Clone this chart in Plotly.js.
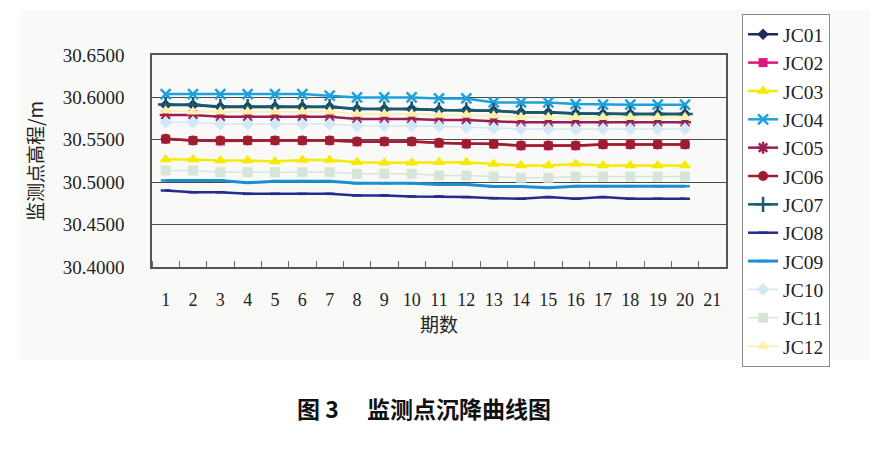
<!DOCTYPE html>
<html>
<head>
    <meta charset="utf-8">
    <title>监测点沉降曲线图</title>
    <script src="https://cdn.plot.ly/plotly-3.0.1.min.js"></script>
    <style>
        html, body { margin: 0; padding: 0; background: #ffffff; }
        #plot { width: 892px; height: 470px; }
    </style>
</head>
<body>
    <div id="plot"></div>
    <script>
        const periods = [1, 2, 3, 4, 5, 6, 7, 8, 9, 10, 11, 12, 13, 14, 15, 16, 17, 18, 19, 20];
        const periodTicks = [1, 2, 3, 4, 5, 6, 7, 8, 9, 10, 11, 12, 13, 14, 15, 16, 17, 18, 19, 20, 21];

        const jc01 = [30.5910, 30.5910, 30.5888, 30.5888, 30.5888, 30.5888, 30.5888, 30.5862, 30.5862, 30.5862, 30.5850, 30.5850, 30.5842, 30.5822, 30.5822, 30.5810, 30.5803, 30.5803, 30.5803, 30.5803];
        const jc02 = [30.5508, 30.5491, 30.5486, 30.5491, 30.5491, 30.5491, 30.5491, 30.5476, 30.5479, 30.5479, 30.5461, 30.5452, 30.5449, 30.5430, 30.5430, 30.5430, 30.5444, 30.5444, 30.5444, 30.5444];
        const jc03 = [30.5267, 30.5267, 30.5255, 30.5255, 30.5244, 30.5263, 30.5263, 30.5235, 30.5228, 30.5228, 30.5235, 30.5235, 30.5216, 30.5196, 30.5196, 30.5216, 30.5196, 30.5196, 30.5196, 30.5196];
        const jc04 = [30.6040, 30.6040, 30.6040, 30.6040, 30.6040, 30.6040, 30.6020, 30.6000, 30.6000, 30.6000, 30.5988, 30.5988, 30.5941, 30.5941, 30.5941, 30.5922, 30.5914, 30.5914, 30.5914, 30.5914];
        const jc05 = [30.5793, 30.5793, 30.5773, 30.5773, 30.5773, 30.5773, 30.5773, 30.5746, 30.5746, 30.5746, 30.5734, 30.5734, 30.5718, 30.5706, 30.5706, 30.5706, 30.5706, 30.5706, 30.5706, 30.5706];
        const jc06 = [30.5511, 30.5491, 30.5491, 30.5491, 30.5491, 30.5491, 30.5491, 30.5479, 30.5479, 30.5479, 30.5464, 30.5452, 30.5452, 30.5432, 30.5432, 30.5432, 30.5444, 30.5444, 30.5444, 30.5444];
        const jc07 = [30.5916, 30.5914, 30.5893, 30.5891, 30.5891, 30.5891, 30.5891, 30.5866, 30.5864, 30.5864, 30.5852, 30.5852, 30.5844, 30.5824, 30.5824, 30.5812, 30.5805, 30.5805, 30.5805, 30.5805];
        const jc08 = [30.4902, 30.4882, 30.4882, 30.4863, 30.4863, 30.4863, 30.4863, 30.4844, 30.4844, 30.4832, 30.4832, 30.4824, 30.4812, 30.4805, 30.4824, 30.4805, 30.4824, 30.4805, 30.4805, 30.4805];
        const jc09 = [30.5020, 30.5020, 30.5020, 30.4993, 30.5012, 30.5012, 30.5012, 30.4988, 30.4988, 30.4988, 30.4973, 30.4973, 30.4949, 30.4949, 30.4934, 30.4953, 30.4953, 30.4953, 30.4953, 30.4953];
        const jc10 = [30.5706, 30.5706, 30.5687, 30.5687, 30.5687, 30.5687, 30.5687, 30.5667, 30.5667, 30.5667, 30.5659, 30.5647, 30.5635, 30.5628, 30.5628, 30.5628, 30.5628, 30.5628, 30.5628, 30.5628];
        const jc11 = [30.5138, 30.5138, 30.5118, 30.5118, 30.5118, 30.5118, 30.5118, 30.5099, 30.5099, 30.5099, 30.5079, 30.5079, 30.5067, 30.5052, 30.5052, 30.5067, 30.5067, 30.5067, 30.5067, 30.5067];
        const jc12 = [30.5844, 30.5832, 30.5832, 30.5832, 30.5832, 30.5832, 30.5832, 30.5805, 30.5805, 30.5805, 30.5793, 30.5793, 30.5785, 30.5765, 30.5765, 30.5765, 30.5765, 30.5765, 30.5765, 30.5765];

        const seriesNames = ['JC01', 'JC02', 'JC03', 'JC04', 'JC05', 'JC06', 'JC07', 'JC08', 'JC09', 'JC10', 'JC11', 'JC12'];
        const seriesValues = [jc01, jc02, jc03, jc04, jc05, jc06, jc07, jc08, jc09, jc10, jc11, jc12];

        // look of each series, same order as the names
        const styles = [
            { color: '#1f2d5a', symbol: 'diamond', size: 9, width: 2.5 },
            { color: '#e0167c', symbol: 'square', size: 9, width: 2.5 },
            { color: '#f6ea00', symbol: 'triangle-up', size: 11, width: 2.5 },
            { color: '#1ea0dc', symbol: 'x-thin-open', size: 10, width: 2.5 },
            { color: '#9a1f55', symbol: 'asterisk-open', size: 10, width: 2.5 },
            { color: '#9b1f2e', symbol: 'circle', size: 10, width: 2.5 },
            { color: '#165a6c', symbol: 'cross-thin-open', size: 11, width: 2.5 },
            { color: '#262a8c', symbol: 'line-ew-open', size: 7, width: 2.5 },
            { color: '#1a8fd2', symbol: 'line-ew-open', size: 7, width: 3 },
            { color: '#d3e8f6', symbol: 'diamond', size: 10, width: 1.5 },
            { color: '#d6e6d6', symbol: 'square', size: 10, width: 1.5 },
            { color: '#fcefa6', symbol: 'triangle-up', size: 11, width: 1.5 }
        ];

        const openSymbols = ['x-thin-open', 'asterisk-open', 'cross-thin-open', 'line-ew-open'];

        const data = seriesNames.map((name, i) => {
            const s = styles[i];
            const open = openSymbols.includes(s.symbol);
            return {
                x: periods,
                y: seriesValues[i],
                type: 'scatter',
                mode: 'lines+markers',
                name: name,
                line: { color: s.color, width: s.width },
                marker: {
                    symbol: s.symbol,
                    size: s.size,
                    color: s.color,
                    line: { color: s.color, width: open ? 2.5 : 0 }
                }
            };
        });

        const serif = 'Liberation Serif, Times New Roman, DejaVu Serif, serif';
        const cjk = 'Noto Sans CJK SC, sans-serif';

        const layout = {
            width: 892,
            height: 470,
            margin: { l: 152, r: 166, t: 55, b: 203 },
            paper_bgcolor: '#ffffff',
            plot_bgcolor: '#c5bdb8',
            font: { family: serif, color: '#222222', size: 18 },
            showlegend: true,
            legend: {
                x: 1.028,
                y: 1.193,
                xanchor: 'left',
                yanchor: 'top',
                maxheight: 420,
                bgcolor: '#ffffff',
                bordercolor: '#8a8a8a',
                borderwidth: 1,
                font: { family: serif, size: 19.5, color: '#222222' },
                itemwidth: 30
            },
            xaxis: {
                range: [0.5, 21.5],
                tickmode: 'array',
                tickvals: periodTicks,
                ticktext: periodTicks.map(String),
                ticks: '',
                ticklabelstandoff: 16,
                tickfont: { family: serif, size: 18, color: '#222222' },
                showgrid: false,
                zeroline: false,
                showline: true,
                mirror: true,
                linecolor: '#555555',
                linewidth: 1.5,
                minor: {
                    tick0: 0.5,
                    dtick: 1,
                    ticks: 'inside',
                    ticklen: 6,
                    tickcolor: '#666666',
                    tickwidth: 1,
                    showgrid: false
                },
                title: {
                    text: '期数',
                    font: { family: cjk, size: 19, color: '#222222' },
                    standoff: 8
                }
            },
            yaxis: {
                range: [30.40, 30.65],
                dtick: 0.05,
                tick0: 30.40,
                tickformat: '.4f',
                ticks: '',
                ticklabelstandoff: 22,
                tickfont: { family: serif, size: 19, color: '#222222' },
                showgrid: true,
                gridcolor: '#4a4a4a',
                gridwidth: 1,
                zeroline: false,
                showline: true,
                mirror: true,
                linecolor: '#555555',
                linewidth: 1.5,
                title: {
                    text: '监测点高程/m',
                    font: { family: cjk, size: 19, color: '#222222' },
                    standoff: 14
                }
            },
            shapes: [
                {
                    type: 'rect', xref: 'paper', yref: 'paper', layer: 'below',
                    x0: -0.23, x1: 1.251, y0: -0.439, y1: 1.212,
                    fillcolor: '#f9f9f8', line: { width: 0 }
                }
            ],
            annotations: [
                {
                    text: '<b>图 3　 监测点沉降曲线图</b>',
                    xref: 'paper', yref: 'paper',
                    x: 0.474, y: -0.665,
                    xanchor: 'center', yanchor: 'middle',
                    showarrow: false,
                    font: { family: cjk, size: 23, color: '#111111' }
                }
            ]
        };

        const config = { displayModeBar: false, responsive: false };

        Plotly.newPlot('plot', data, layout, config);
    </script>
</body>
</html>
